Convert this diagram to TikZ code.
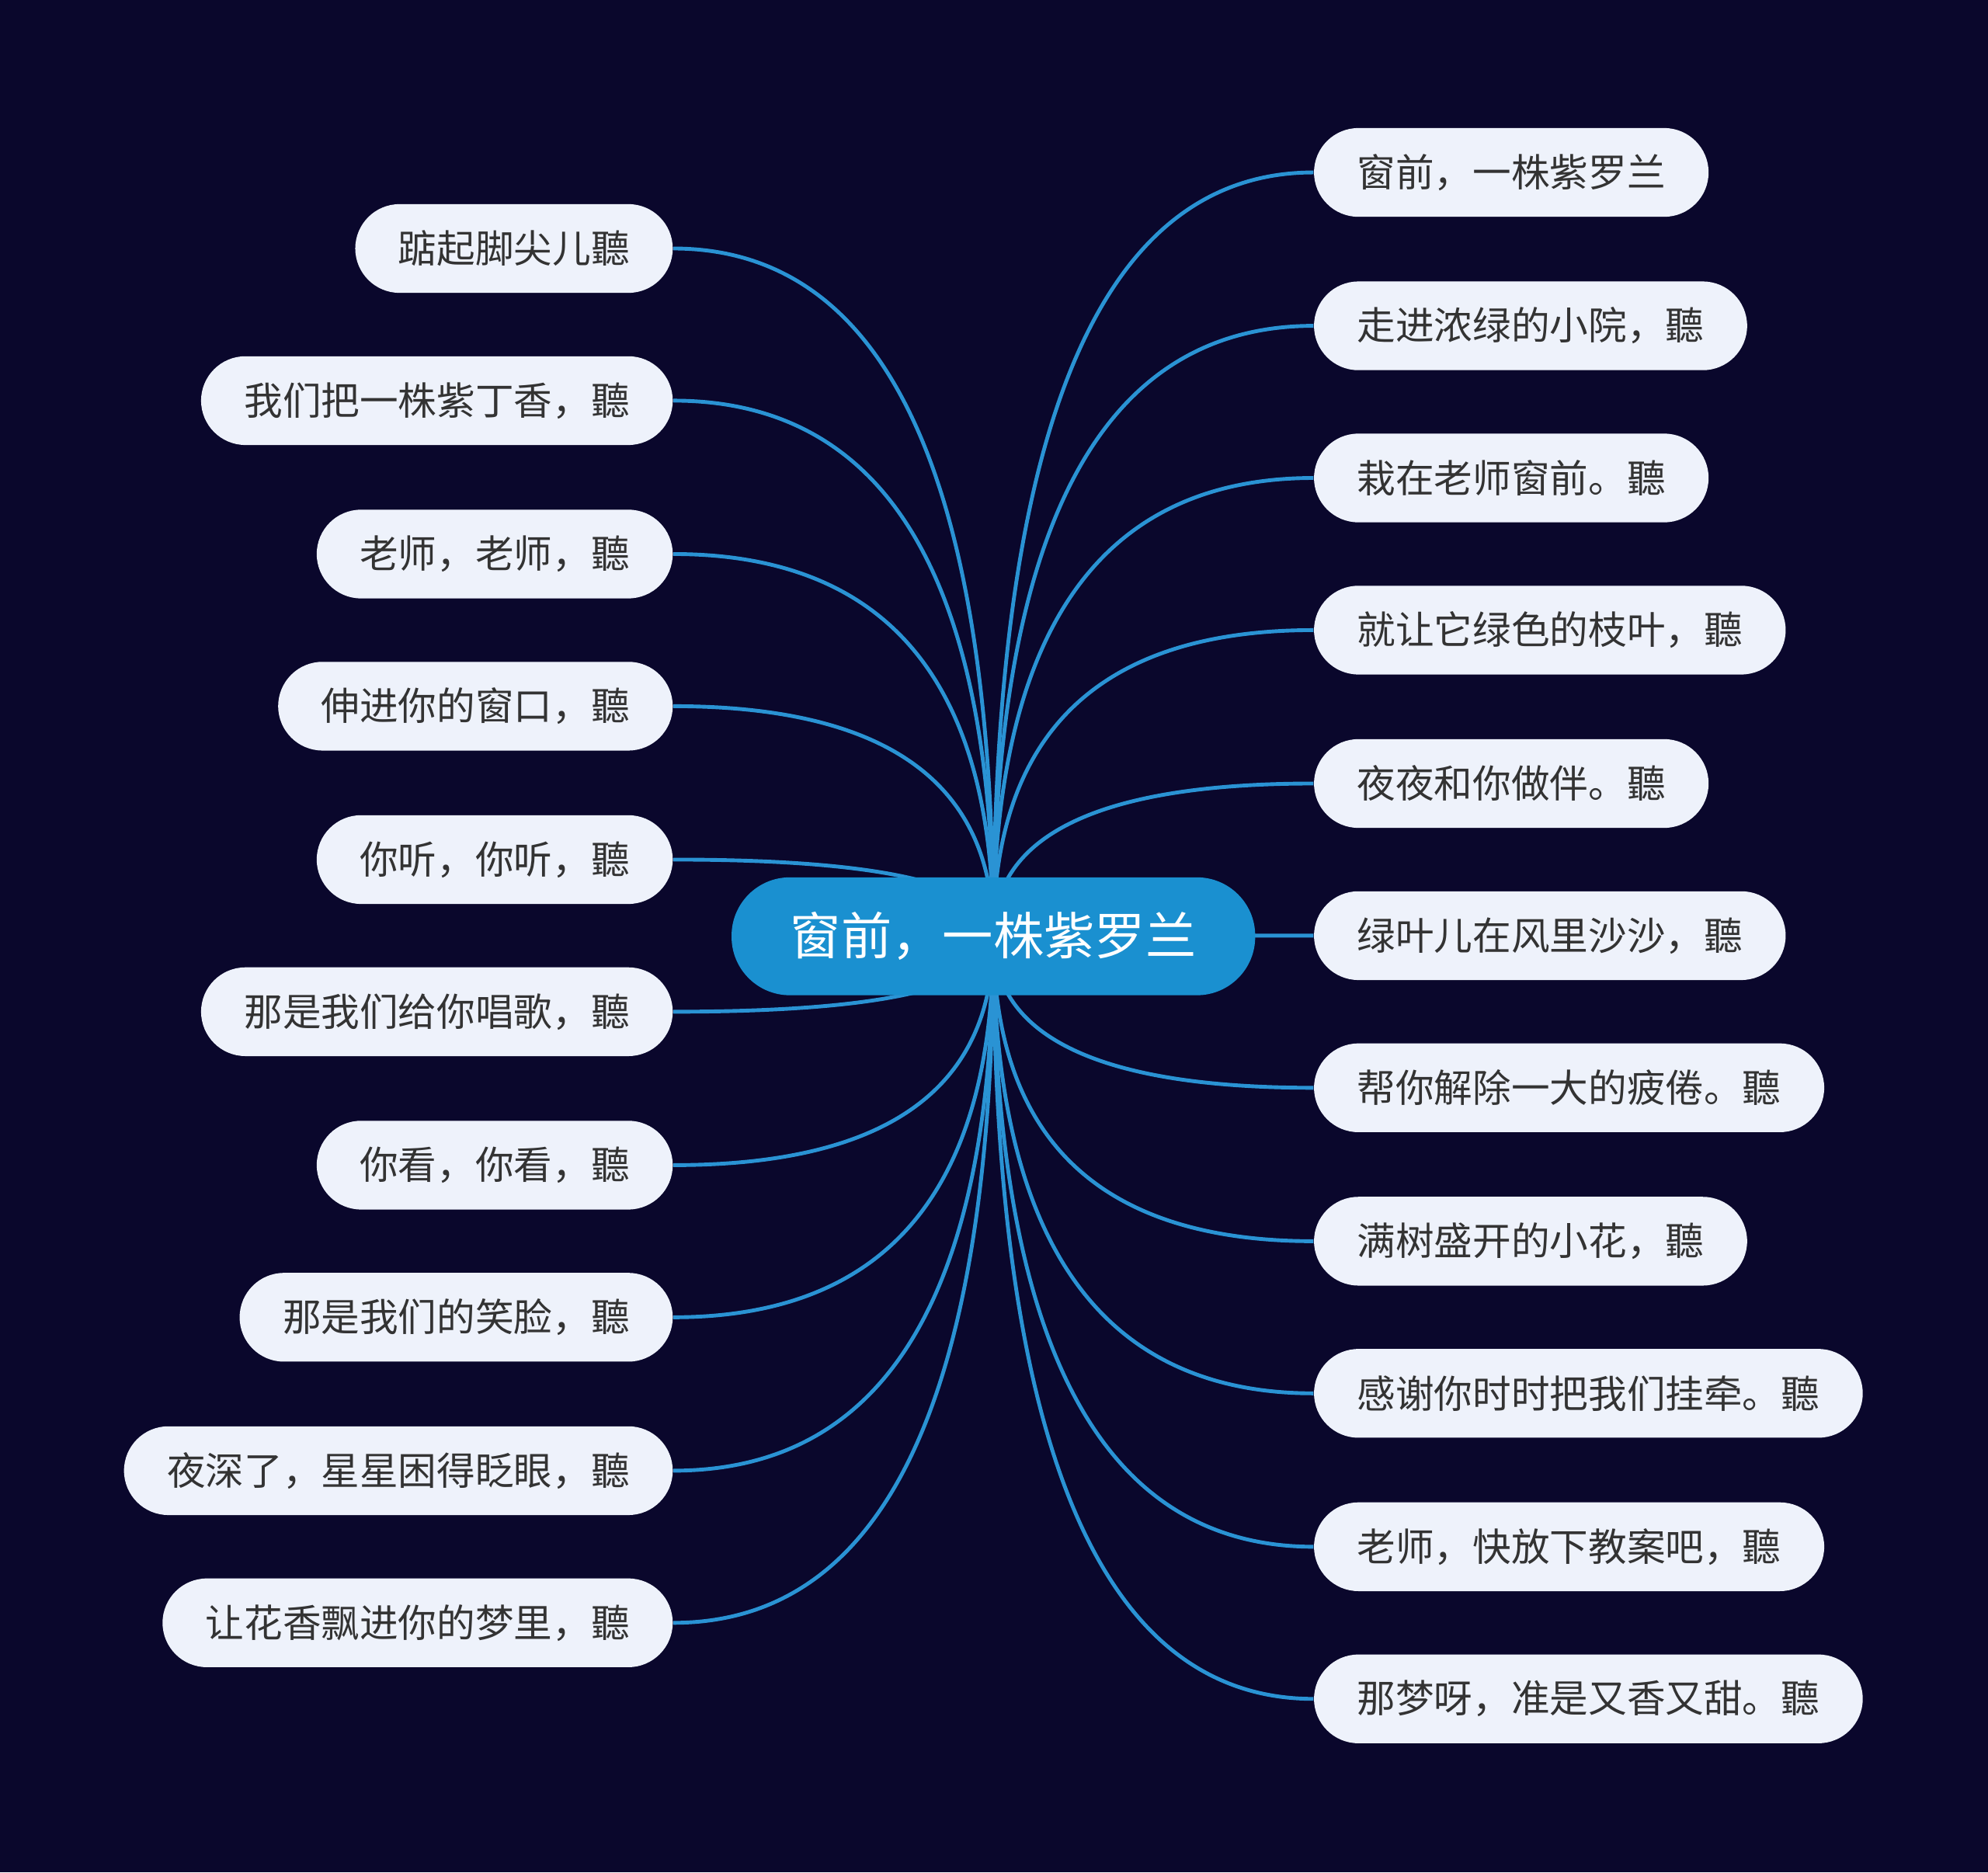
\documentclass[tikz,border=0pt]{standalone}
\usepackage{fontspec}
\setmainfont{Noto Sans CJK SC}
\usetikzlibrary{calc,backgrounds}
\definecolor{bgc}{HTML}{0A072C}
\definecolor{linec}{HTML}{2A93D4}
\definecolor{rootc}{HTML}{1A90D0}
\definecolor{leafc}{HTML}{EEF2FB}
\definecolor{txtc}{HTML}{333333}
\tikzset{
  leaf/.style={draw=none, fill=leafc, text=txtc, font=\fontsize{15.2pt}{18pt}\selectfont,
    rounded corners=17.5pt, minimum height=35pt, inner xsep=17pt, inner ysep=0pt},
  rootnode/.style={draw=none, fill=rootc, text=white, font=\fontsize{20pt}{24pt}\selectfont,
    rounded corners=23pt, minimum height=46.5pt, minimum width=206.5pt, inner sep=0pt},
  conn/.style={draw=linec, line width=1.5pt},
}
\newcommand{\rconn}[1]{\draw[conn] (root.center) .. controls ($(root.center)!2/3!(root.center |- #1.west)$) and ($(#1.west)!2/3!(root.center |- #1.west)$) .. (#1.west);}
\newcommand{\lconn}[1]{\draw[conn] (root.center) .. controls ($(root.center)!2/3!(root.center |- #1.east)$) and ($(#1.east)!2/3!(root.center |- #1.east)$) .. (#1.east);}
\begin{document}
\begin{tikzpicture}[x=0.5pt,y=-0.5pt]
\useasboundingbox (0,0) rectangle (1568,1477);
\node[rootnode] (root) at (783.5,738.5) {窗前，一株紫罗兰};
% right
\node[leaf,anchor=west] (r1) at (1036,136) {窗前，一株紫罗兰};
\node[leaf,anchor=west] (r2) at (1036,257) {走进浓绿的小院，聽};
\node[leaf,anchor=west] (r3) at (1036,377) {栽在老师窗前。聽};
\node[leaf,anchor=west] (r4) at (1036,497) {就让它绿色的枝叶，聽};
\node[leaf,anchor=west] (r5) at (1036,618) {夜夜和你做伴。聽};
\node[leaf,anchor=west] (r6) at (1036,738) {绿叶儿在风里沙沙，聽};
\node[leaf,anchor=west] (r7) at (1036,858) {帮你解除一大的疲倦。聽};
\node[leaf,anchor=west] (r8) at (1036,979) {满树盛开的小花，聽};
\node[leaf,anchor=west] (r9) at (1036,1099) {感谢你时时把我们挂牵。聽};
\node[leaf,anchor=west] (r10) at (1036,1220) {老师，快放下教案吧，聽};
\node[leaf,anchor=west] (r11) at (1036,1340) {那梦呀，准是又香又甜。聽};
% left
\node[leaf,anchor=east] (l1) at (531,196) {踮起脚尖儿聽};
\node[leaf,anchor=east] (l2) at (531,316) {我们把一株紫丁香，聽};
\node[leaf,anchor=east] (l3) at (531,437) {老师，老师，聽};
\node[leaf,anchor=east] (l4) at (531,557) {伸进你的窗口，聽};
\node[leaf,anchor=east] (l5) at (531,678) {你听，你听，聽};
\node[leaf,anchor=east] (l6) at (531,798) {那是我们给你唱歌，聽};
\node[leaf,anchor=east] (l7) at (531,919) {你看，你看，聽};
\node[leaf,anchor=east] (l8) at (531,1039) {那是我们的笑脸，聽};
\node[leaf,anchor=east] (l9) at (531,1160) {夜深了，星星困得眨眼，聽};
\node[leaf,anchor=east] (l10) at (531,1280) {让花香飘进你的梦里，聽};
\begin{scope}[on background layer]
\fill[bgc] (0,0) rectangle (1568,1477);
\foreach \n in {r1,r2,r3,r4,r5,r6,r7,r8,r9,r10,r11} {\rconn{\n}}
\foreach \n in {l1,l2,l3,l4,l5,l6,l7,l8,l9,l10} {\lconn{\n}}
\end{scope}
\end{tikzpicture}
\end{document}
